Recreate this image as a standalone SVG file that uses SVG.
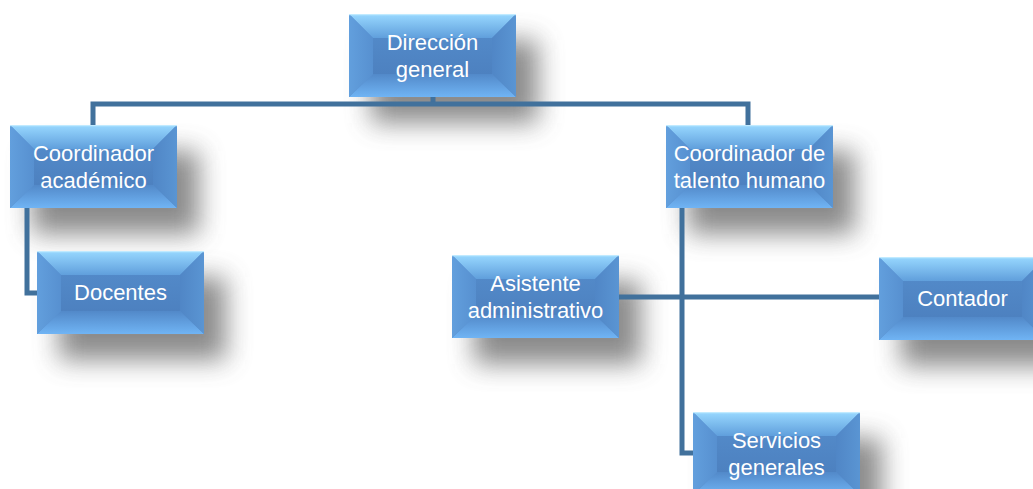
<svg xmlns="http://www.w3.org/2000/svg" xmlns:xlink="http://www.w3.org/1999/xlink" width="1033" height="489" viewBox="0 0 1033 489">
<defs>
<filter id="sh" x="-40%" y="-60%" width="180%" height="220%">
<feGaussianBlur stdDeviation="13"/>
</filter>
<linearGradient id="gTop" x1="0" y1="0" x2="0" y2="1">
<stop offset="0" stop-color="#98d8ff"/>
<stop offset="1" stop-color="#609fdc"/>
</linearGradient>
<linearGradient id="gBot" x1="0" y1="0" x2="0" y2="1">
<stop offset="0" stop-color="#5289c9"/>
<stop offset="1" stop-color="#70b4f4"/>
</linearGradient>
<linearGradient id="gLeft" x1="0" y1="0" x2="1" y2="0">
<stop offset="0" stop-color="#629fdd"/>
<stop offset="1" stop-color="#5790d0"/>
</linearGradient>
<linearGradient id="gRight" x1="0" y1="0" x2="1" y2="0">
<stop offset="0" stop-color="#5086c6"/>
<stop offset="1" stop-color="#5a95d3"/>
</linearGradient>
<linearGradient id="gMid" x1="0" y1="0" x2="0" y2="1">
<stop offset="0" stop-color="#5289c8"/>
<stop offset="1" stop-color="#4d81c0"/>
</linearGradient>
<g id="shadow">
<rect x="22" y="26" width="167" height="83" fill="#5a5a5a" opacity="0.7" filter="url(#sh)"/>
</g>
<g id="bevel">
<rect x="0" y="0" width="167" height="83" fill="#5890d0"/>
<polygon points="0,0 167,0 143,24 24,24" fill="url(#gTop)"/>
<polygon points="0,83 167,83 143,60 24,60" fill="url(#gBot)"/>
<polygon points="0,0 24,24 24,60 0,83" fill="url(#gLeft)"/>
<polygon points="167,0 143,24 143,60 167,83" fill="url(#gRight)"/>
<rect x="24" y="24" width="119" height="36" fill="url(#gMid)"/>
<line x1="0" y1="0.6" x2="167" y2="0.6" stroke="#c0eaff" stroke-width="1.2"/>
</g>
</defs>
<style>
.t{font-family:"Liberation Sans",Arial,sans-serif;font-size:22px;fill:#ffffff;text-anchor:middle}
.c{fill:none;stroke:#41719c;stroke-width:5;stroke-linejoin:miter;stroke-linecap:butt}
</style>
<rect width="1033" height="489" fill="#ffffff"/>
<g id="shadows">
<use xlink:href="#shadow" x="349" y="14"/>
<use xlink:href="#shadow" x="10" y="125"/>
<use xlink:href="#shadow" x="666" y="125"/>
<use xlink:href="#shadow" x="37" y="251"/>
<use xlink:href="#shadow" x="452" y="255"/>
<use xlink:href="#shadow" x="879" y="257"/>
<use xlink:href="#shadow" x="693" y="412"/>
</g>
<g id="connectors">
<path class="c" d="M433,97 V104"/>
<path class="c" d="M93,125 V104 H748 V125"/>
<path class="c" d="M27,208 V293 H37"/>
<path class="c" d="M682,208 V453 H693"/>
<path class="c" d="M618,297 H879"/>
</g>
<g id="direccion">
<use xlink:href="#bevel" x="349" y="14"/>
<text class="t" x="432.5" y="50">Dirección</text>
<text class="t" x="432.5" y="77">general</text>
</g>
<g id="academico">
<use xlink:href="#bevel" x="10" y="125"/>
<text class="t" x="93.5" y="161">Coordinador</text>
<text class="t" x="93.5" y="188">académico</text>
</g>
<g id="talento">
<use xlink:href="#bevel" x="666" y="125"/>
<text class="t" x="749.5" y="161">Coordinador de</text>
<text class="t" x="749.5" y="188">talento humano</text>
</g>
<g id="docentes">
<use xlink:href="#bevel" x="37" y="251"/>
<text class="t" x="120.5" y="300">Docentes</text>
</g>
<g id="asistente">
<use xlink:href="#bevel" x="452" y="255"/>
<text class="t" x="535.5" y="291">Asistente</text>
<text class="t" x="535.5" y="318">administrativo</text>
</g>
<g id="contador">
<use xlink:href="#bevel" x="879" y="257"/>
<text class="t" x="962.5" y="306">Contador</text>
</g>
<g id="servicios">
<use xlink:href="#bevel" x="693" y="412"/>
<text class="t" x="776.5" y="448">Servicios</text>
<text class="t" x="776.5" y="475">generales</text>
</g>
</svg>
